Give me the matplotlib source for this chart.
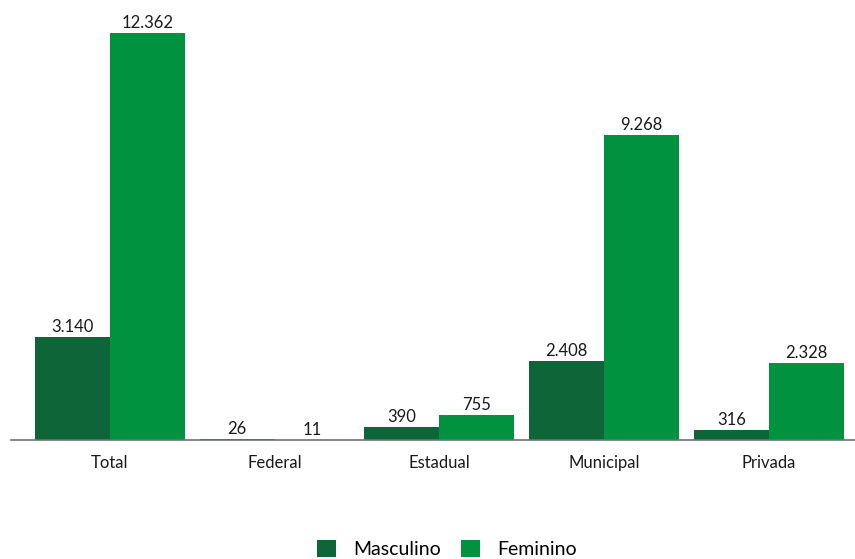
import matplotlib.pyplot as plt
import numpy as np

plt.rcParams['font.family'] = ['Lato', 'DejaVu Sans']

categories = ["Total", "Federal", "Estadual", "Municipal", "Privada"]
masculino = [3140, 26, 390, 2408, 316]
feminino = [12362, 11, 755, 9268, 2328]
series_names = ["Masculino", "Feminino"]


def fmt(v):
    return f"{v:,}".replace(",", ".")


fig = plt.figure(figsize=(8.55, 5.59), dpi=100)
ax = fig.add_axes([11 / 855, 1 - 440 / 559, 844 / 855, 420 / 559])

x = np.arange(len(categories))
w = 0.455
dark = "#0e6638"
light = "#00923f"

b1 = ax.bar(x - w / 2, masculino, w, color=dark, label=series_names[0])
b2 = ax.bar(x + w / 2, feminino, w, color=light, label=series_names[1])

for bars in (b1, b2):
    for rect in bars:
        v = rect.get_height()
        ax.annotate(fmt(int(v)), (rect.get_x() + rect.get_width() / 2, v),
                    xytext=(0, 1.5), textcoords="offset points",
                    ha="center", va="bottom", fontsize=12, color="#1a1a1a")

ax.set_xlim(-0.6, 4.523)
ax.set_ylim(0, 12362 * 420 / 407)
ax.set_yticks([])
ax.set_xticks(x)
ax.set_xticklabels(categories, fontsize=12, color="#1a1a1a")
ax.tick_params(axis="x", length=0, pad=11)
for s in ("top", "right", "left"):
    ax.spines[s].set_visible(False)
ax.spines["bottom"].set_color("#707070")
ax.spines["bottom"].set_linewidth(1.2)

fig.legend(loc="center", bbox_to_anchor=(447 / 855, 1 - 549 / 559), ncol=2,
           frameon=False, fontsize=14, handlelength=1.0, handleheight=1.0,
           columnspacing=1.0, handletextpad=0.9)

fig.savefig("out.png", dpi=100)
